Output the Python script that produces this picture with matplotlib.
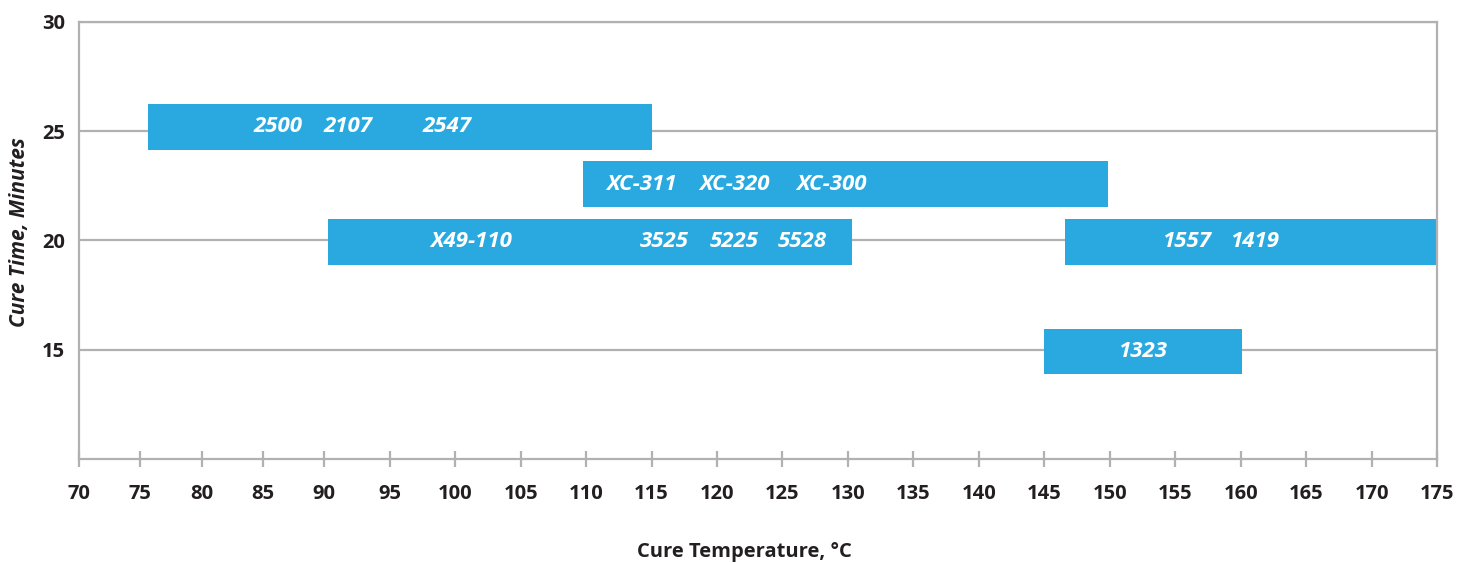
import numpy as np
import matplotlib.pyplot as plt

# data: cure windows (temperature range) for each product group
row_labels = [["2500", "2107", "2547"],
              ["XC-311", "XC-320", "XC-300"],
              ["X49-110", "3525", "5225", "5528"],
              ["1557", "1419"],
              ["1323"]]
temp_start = [75.65, 109.75, 90.3, 146.6, 145.0]
temp_end = [115.0, 149.85, 130.35, 175.0, 160.1]
time_center = [25.2, 22.57, 19.95, 19.95, 14.93]
time_height = [2.1, 2.1, 2.1, 2.1, 2.05]
label_temps = [[86.2, 91.8, 99.4],
               [114.25, 121.3, 128.75],
               [101.2, 116.0, 121.3, 126.5],
               [155.9, 161.1],
               [152.5]]

x_ticks = list(range(70, 180, 5))
y_ticks = [15, 20, 25, 30]

# the original axis is drawn by hand: 70-90 is squeezed a little
scale_temps = [70, 90, 175]
scale_pos = [0.0, 245.3, 1357.7]

bar_color = "#29A9E0"
grid_color = "#B1B1B4"
text_color = "#231F20"


def fwd(x):
    return np.interp(x, scale_temps, scale_pos)


def inv(p):
    return np.interp(p, scale_pos, scale_temps)


plt.rcParams['font.family'] = ['Open Sans', 'DejaVu Sans']

fig = plt.figure(figsize=(14.59, 5.63), dpi=100)
ax = fig.add_axes([0.0541, 0.1847, 0.9308, 0.7763])
ax.set_xscale('function', functions=(fwd, inv))

for y in y_ticks:
    ax.axhline(y, color=grid_color, lw=1.6, zorder=1)

ax.barh(time_center, [e - s for s, e in zip(temp_start, temp_end)], left=temp_start,
        height=time_height, color=bar_color, zorder=2)

for labels, xs, y in zip(row_labels, label_temps, time_center):
    for lab, x in zip(labels, xs):
        ax.text(x, y, lab, color="white", fontsize=16, fontweight="bold", style="italic",
                ha="center", va="center", zorder=3)

ax.set_xlim(70, 175)
ax.set_ylim(10, 30)
ax.set_xticks(x_ticks)
ax.set_xticklabels([str(t) for t in x_ticks])
ax.xaxis.set_minor_locator(plt.NullLocator())
ax.set_yticks(y_ticks)
ax.tick_params(axis="x", direction="inout", length=12, width=1.6, color=grid_color,
               labelsize=14.5, labelcolor=text_color, pad=12)
ax.tick_params(axis="y", length=0, labelsize=14.5, labelcolor=text_color, pad=10)
for lab in ax.get_xticklabels() + ax.get_yticklabels():
    lab.set_fontweight("bold")

for side in ["left", "right", "bottom", "top"]:
    ax.spines[side].set_color(grid_color)
    ax.spines[side].set_linewidth(1.6)

ax.set_xlabel("Cure Temperature, °C", fontsize=14.5, fontweight="bold", color=text_color)
ax.xaxis.label.set_va("baseline")
ax.xaxis.set_label_coords(0.49, -0.224)
ax.set_ylabel("Cure Time, Minutes", fontsize=15, fontweight="bold", style="italic",
              color=text_color)
ax.yaxis.set_label_coords(-0.036, 0.52)

fig.savefig("out.png", dpi=100, facecolor="white")
